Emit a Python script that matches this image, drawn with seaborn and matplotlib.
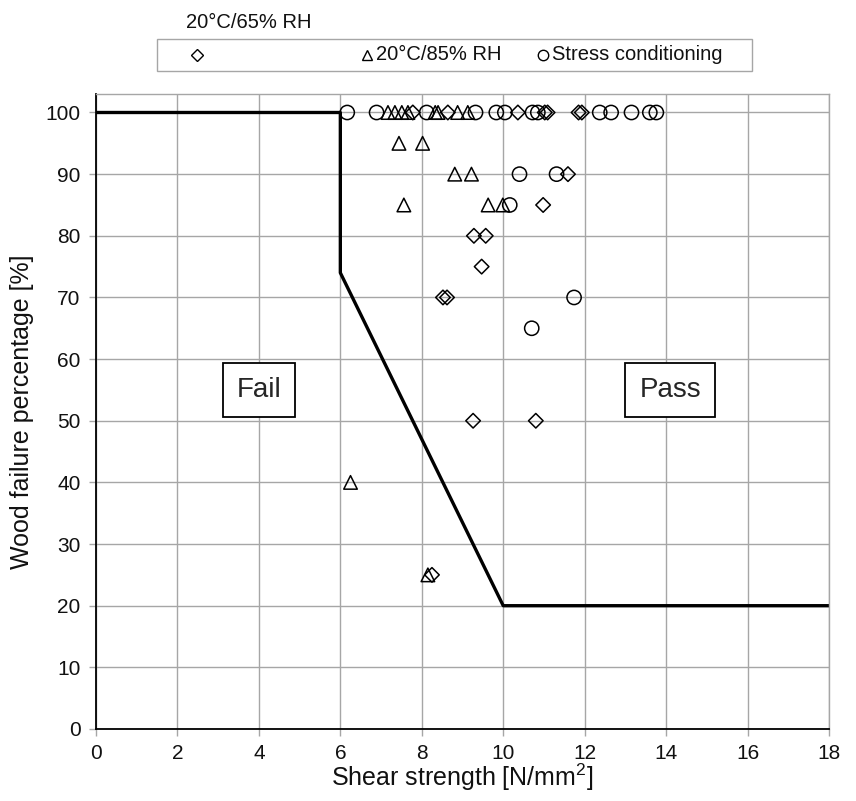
import matplotlib
matplotlib.use('Agg')
import matplotlib.pyplot as plt
from matplotlib.lines import Line2D
from matplotlib.patches import Rectangle
import seaborn as sns
import numpy as np

# data
# 20°C/65% RH  (diamonds)
d65_x = [7.78, 8.64, 10.36, 11.02, 11.09, 11.85, 11.93, 11.59, 10.98, 9.28, 9.57,
         9.47, 8.52, 8.62, 9.26, 10.80, 8.25]
d65_y = [100, 100, 100, 100, 100, 100, 100, 90, 85, 80, 80,
         75, 70, 70, 50, 50, 25]

# 20°C/85% RH  (triangles)
d85_x = [7.17, 7.34, 7.51, 7.66, 8.33, 8.40, 8.88, 9.13, 7.44, 8.02, 8.81, 9.22,
         7.56, 9.63, 9.99, 6.25, 8.15]
d85_y = [100, 100, 100, 100, 100, 100, 100, 100, 95, 95, 90, 90,
         85, 85, 85, 40, 25]

# stress conditioning  (circles)
stress_x = [6.17, 6.89, 8.12, 9.32, 9.83, 10.04, 10.72, 10.85, 12.37, 12.65, 13.15,
            13.60, 13.76, 10.40, 11.31, 10.16, 11.74, 10.70]
stress_y = [100, 100, 100, 100, 100, 100, 100, 100, 100, 100, 100,
            100, 100, 90, 90, 85, 70, 65]

# pass / fail limit
limit_x = [0, 6, 6, 10, 18]
limit_y = [100, 100, 74, 20, 20]

x_ticks = list(range(0, 19, 2))
y_ticks = list(range(0, 101, 10))

sns.set_theme(style='white')
plt.rcParams['font.family'] = ['Liberation Sans', 'DejaVu Sans']
plt.rcParams['mathtext.fontset'] = 'custom'
plt.rcParams['mathtext.rm'] = 'Liberation Sans'
plt.rcParams['mathtext.it'] = 'Liberation Sans'

W, H = 856, 801
fig = plt.figure(figsize=(W / 100, H / 100), dpi=100)
ax = fig.add_axes([96 / W, 1 - 729 / H, 733 / W, 635 / H])

grid_col = '#a6a6a6'
ax.set_axisbelow(True)
ax.grid(True, color=grid_col, linewidth=1.0)

sns.lineplot(x=limit_x, y=limit_y, sort=False, estimator=None, color='black',
             linewidth=2.4, ax=ax, zorder=2)

mk = dict(color='black', facecolor='none', edgecolor='black', linewidth=1.1, ax=ax, zorder=3)
sns.scatterplot(x=d65_x, y=d65_y, marker='D', s=55, **mk)
sns.scatterplot(x=d85_x, y=d85_y, marker='^', s=95, **mk)
sns.scatterplot(x=stress_x, y=stress_y, marker='o', s=105, **mk)

ax.set_xlim(0, 18)
ax.set_ylim(0, 103)
ax.set_xticks(x_ticks)
ax.set_yticks(y_ticks)
ax.tick_params(axis='both', which='major', labelsize=15, length=5, width=1,
               color=grid_col, direction='out', pad=6, labelcolor='#111111')
ax.tick_params(axis='both', bottom=True, left=True)

for side in ['left', 'bottom']:
    ax.spines[side].set_color('black')
    ax.spines[side].set_linewidth(1.3)
for side in ['top', 'right']:
    ax.spines[side].set_color(grid_col)
    ax.spines[side].set_linewidth(1.0)

ax.set_xlabel('Shear strength [N/mm$^2$]', fontsize=18, color='#111111')
ax.set_ylabel('Wood failure percentage [%]', fontsize=18, color='#111111')
ax.xaxis.set_label_coords(0.5, -0.052)
ax.yaxis.set_label_coords(-0.085, 0.5)

box = dict(boxstyle='square,pad=0.5', facecolor='white', edgecolor='black', linewidth=1.3)
ax.text(4.0, 55, 'Fail', fontsize=20, ha='center', va='center', bbox=box, zorder=4)
ax.text(14.1, 55, 'Pass', fontsize=20, ha='center', va='center', bbox=box, zorder=4)

# excel-style legend strip above the plot
def fx(px):
    return px / W

def fy(py):
    return 1 - py / H

fig.add_artist(Rectangle((fx(157), fy(71)), (752 - 157) / W, 32 / H,
                         transform=fig.transFigure, facecolor='white',
                         edgecolor=grid_col, linewidth=1.0))
for px, m, ms in [(196.5, 'D', 6.0), (367, '^', 7.5), (543, 'o', 7.5)]:
    fig.add_artist(Line2D([fx(px)], [fy(55)], marker=m, markersize=ms, linestyle='none',
                          markerfacecolor='none', markeredgecolor='black',
                          markeredgewidth=1.0, transform=fig.transFigure))
fig.text(fx(185.6), fy(22), '20°C/65% RH', fontsize=14.5, ha='left', va='center', color='#111111')
fig.text(fx(375.5), fy(55), '20°C/85% RH', fontsize=14.5, ha='left', va='center', color='#111111')
fig.text(fx(552), fy(55), 'Stress conditioning', fontsize=14.5, ha='left', va='center', color='#111111')

fig.savefig('out.png', dpi=100)
